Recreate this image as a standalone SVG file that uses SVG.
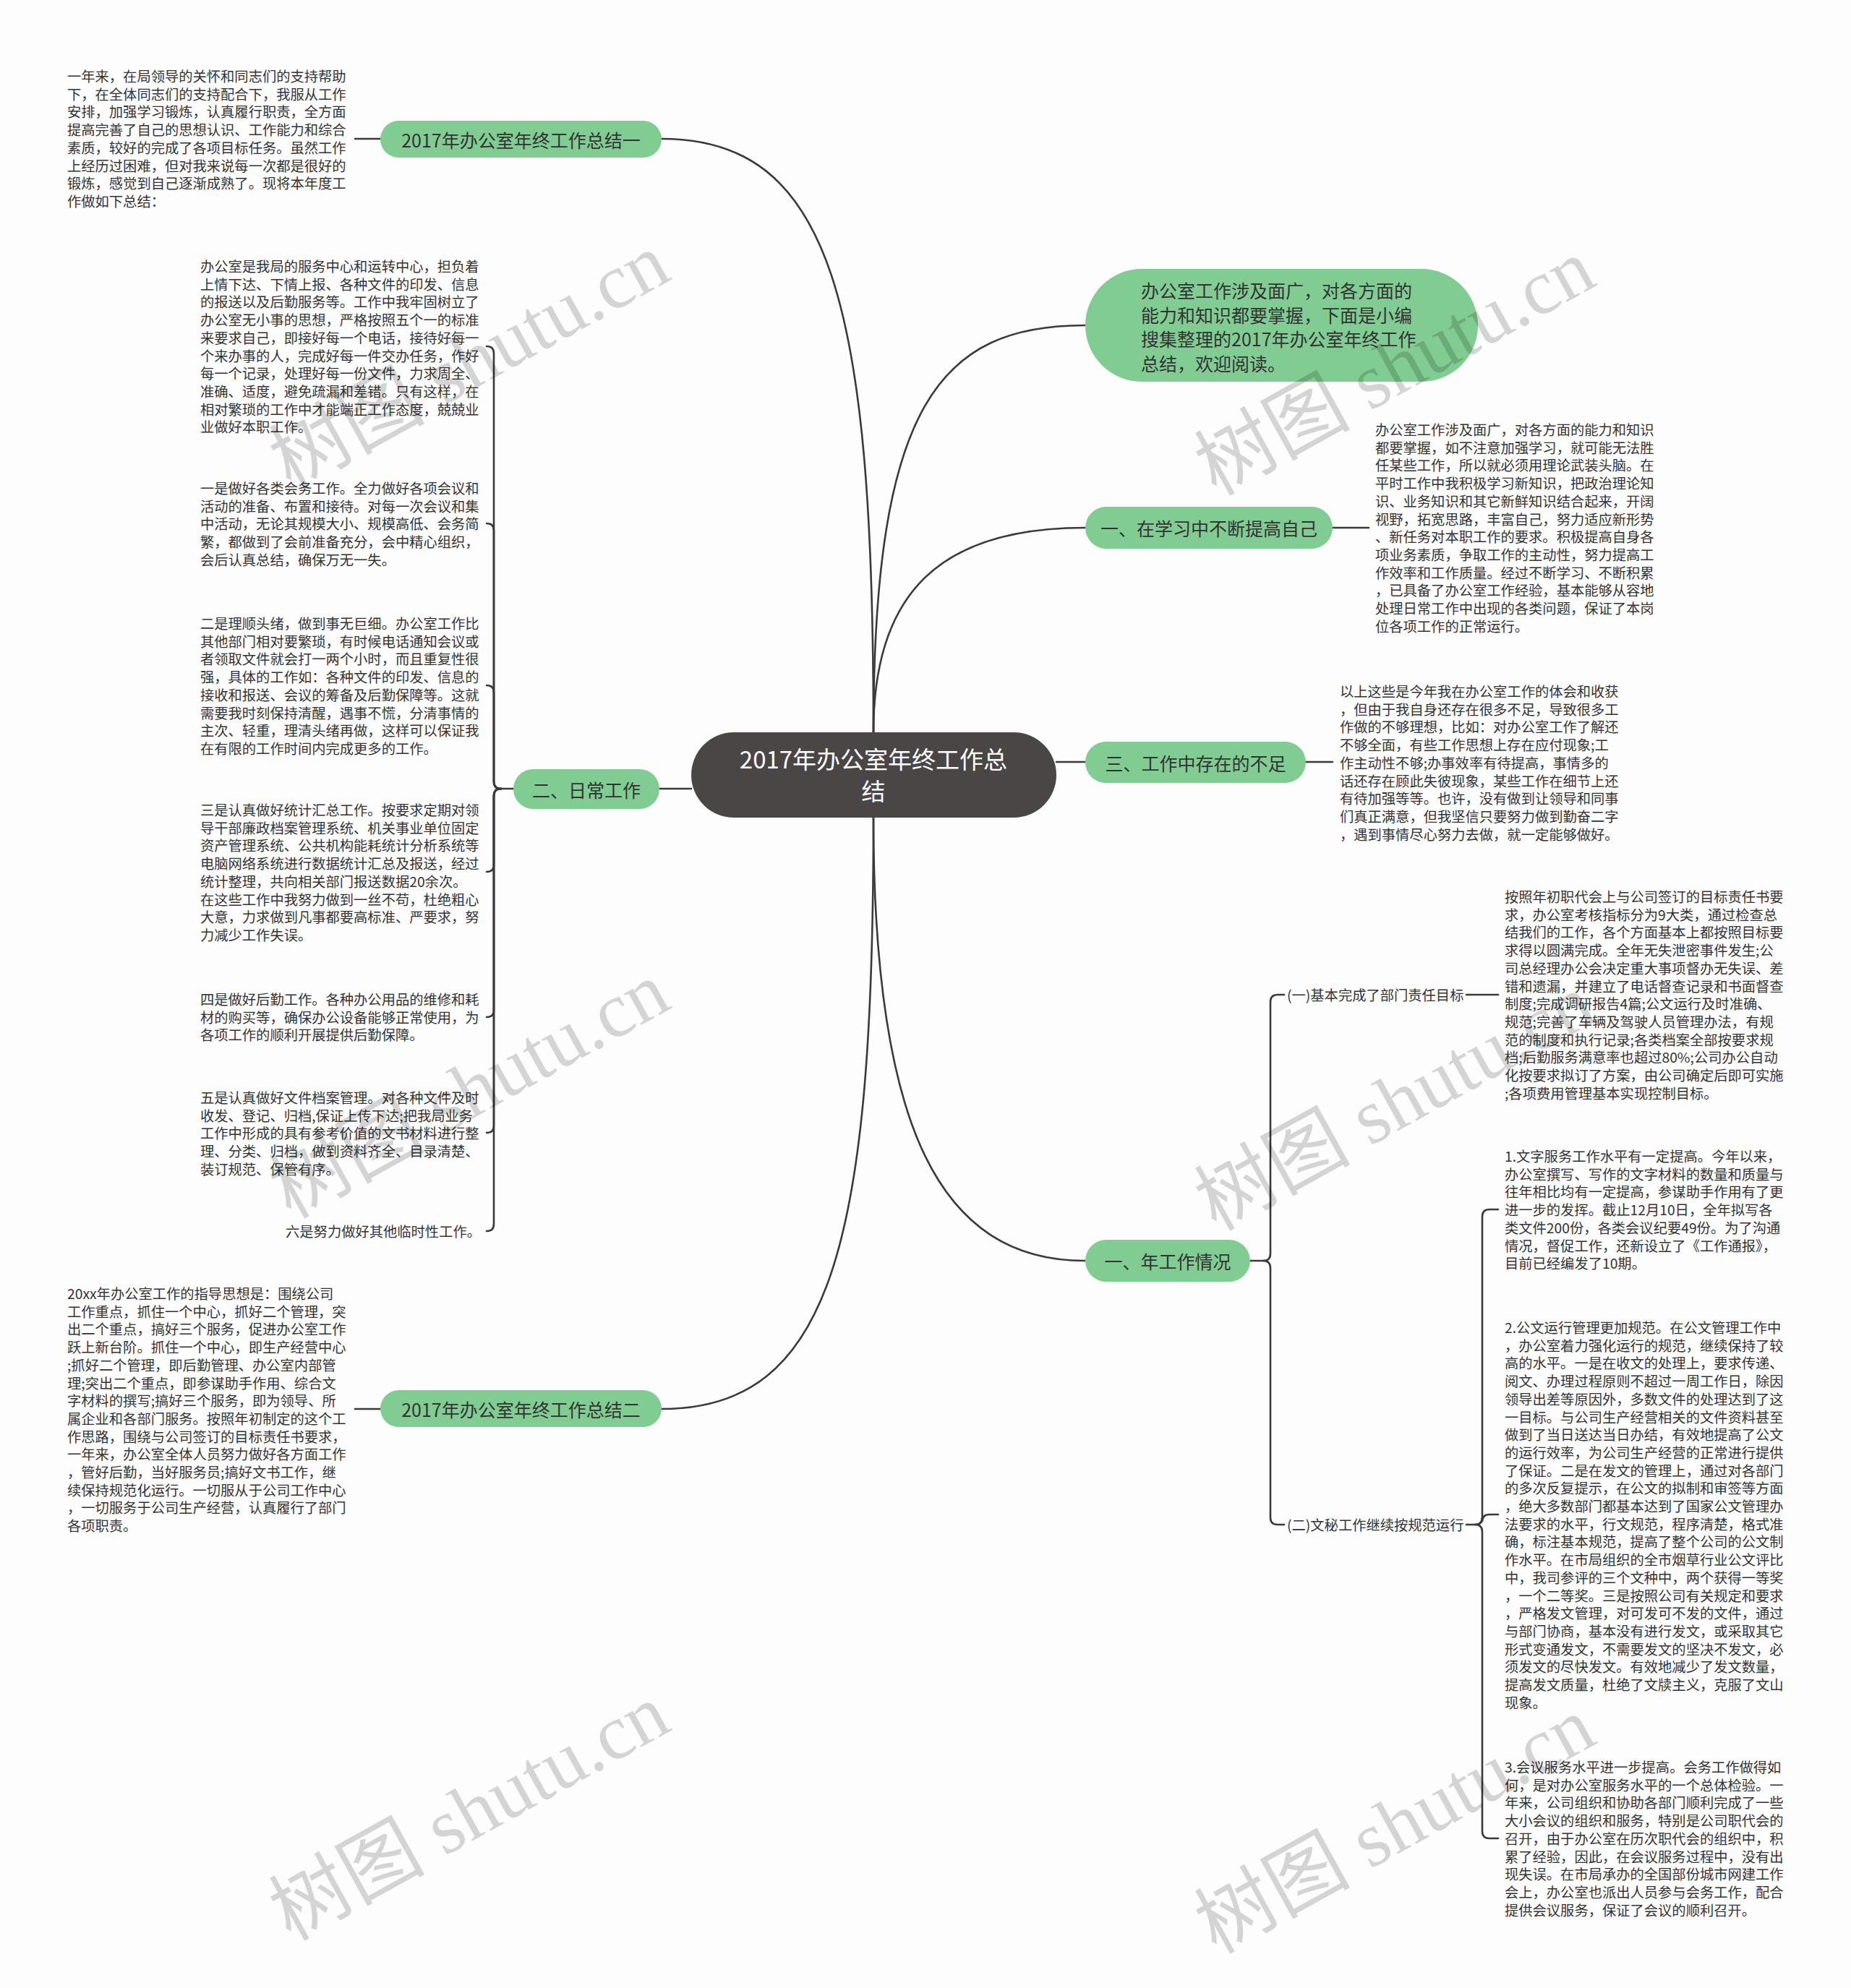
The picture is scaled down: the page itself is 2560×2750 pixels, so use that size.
<svg xmlns="http://www.w3.org/2000/svg" width="2560" height="2750" viewBox="0 0 2560 2750">
<style>
.bg{fill:#fdfdfd}
.conn{fill:none;stroke:#3a3a3a;stroke-width:2.6;stroke-linecap:round}
.pill{fill:#80cc92}
.root{fill:#4a4646}
.lbl{font-family:"Noto Sans CJK SC","Noto Sans",sans-serif;font-size:25px;fill:#333;dominant-baseline:central}
.rlbl{font-family:"Noto Sans CJK SC","Noto Sans",sans-serif;font-size:33px;fill:#fff;dominant-baseline:central;text-anchor:middle}
.leaf{font-family:"Noto Sans CJK SC","Noto Sans",sans-serif;font-size:19.3px;fill:#333;dominant-baseline:central}
.wm{font-family:"Liberation Serif","Noto Sans CJK SC",serif;font-size:108px;fill:#000;fill-opacity:0.16;text-anchor:middle;dominant-baseline:central}
</style>
<rect class="bg" x="0" y="0" width="2560" height="2750"/>

<g id="connectors">
  <path class="conn" d="M1208,1013 C1208,420 1150,192 915,192"/>
  <path class="conn" d="M1208,1131 C1208,1720 1150,1949 915,1949"/>
  <path class="conn" d="M1208,1013 C1208,560 1300,450 1501,450"/>
  <path class="conn" d="M1208,1013 C1208,820 1300,730 1501,730"/>
  <path class="conn" d="M1208,1131 C1208,1560 1300,1744 1501,1744"/>
  <path class="conn" d="M956,1091 H912"/>
  <path class="conn" d="M1461,1054 H1501"/>
  <path class="conn" d="M526,192 H491"/>
  <path class="conn" d="M526,1949 H491"/>
  <path class="conn" d="M1843,730 H1893"/>
  <path class="conn" d="M1806,1054 H1843"/>
  <!-- bracket for 二、日常工作 -->
  <path class="conn" d="M710,1091 H693 Q683,1091 683,1081 V489 Q683,479 673,479"/>
  <path class="conn" d="M693,1091 Q683,1091 683,1081 V734 Q683,724 673,724"/>
  <path class="conn" d="M693,1091 Q683,1091 683,1081 V958 Q683,948 673,948"/>
  <path class="conn" d="M693,1091 Q683,1091 683,1101 V1196 Q683,1206 673,1206"/>
  <path class="conn" d="M693,1091 Q683,1091 683,1101 V1397 Q683,1407 673,1407"/>
  <path class="conn" d="M693,1091 Q683,1091 683,1101 V1557 Q683,1567 673,1567"/>
  <path class="conn" d="M693,1091 Q683,1091 683,1101 V1693 Q683,1703 673,1703"/>
  <!-- bracket for 一、年工作情况 -->
  <path class="conn" d="M1729,1744 H1747 Q1757,1744 1757,1734 V1386 Q1757,1376 1767,1376 H1776"/>
  <path class="conn" d="M1747,1744 Q1757,1744 1757,1754 V2099 Q1757,2109 1767,2109 H1776"/>
  <path class="conn" d="M2028,1376 H2072"/>
  <!-- bracket for (二) -->
  <path class="conn" d="M2028,2109 H2040 Q2050,2109 2050,2099 V1683 Q2050,1673 2060,1673 H2072"/>
  <path class="conn" d="M2040,2109 Q2050,2109 2050,2099 V2105 Q2050,2095 2060,2095 H2072"/>
  <path class="conn" d="M2040,2109 Q2050,2109 2050,2119 V2533 Q2050,2543 2060,2543 H2072"/>
</g>

<g id="root">
  <rect class="root" x="956" y="1013" width="505" height="118" rx="59"/>
  <text class="rlbl" x="1208" y="1049">2017年办公室年终工作总</text>
  <text class="rlbl" x="1208" y="1093">结</text>
</g>

<g id="node-summary1">
  <rect class="pill" x="526" y="167" width="389" height="51" rx="25.5"/>
  <text class="lbl" x="720.5" y="192.5" text-anchor="middle">2017年办公室年终工作总结一</text>
</g>
<g id="node-summary2">
  <rect class="pill" x="526" y="1923" width="389" height="51" rx="25.5"/>
  <text class="lbl" x="720.5" y="1948.5" text-anchor="middle">2017年办公室年终工作总结二</text>
</g>
<g id="node-daily">
  <rect class="pill" x="710" y="1064" width="202" height="55" rx="27.5"/>
  <text class="lbl" x="811" y="1091.5" text-anchor="middle">二、日常工作</text>
</g>
<g id="node-intro">
  <rect class="pill" x="1501" y="372" width="543" height="156" rx="78"/>
  <text class="lbl" x="1578" y="401">
    <tspan x="1578" dy="0">办公室工作涉及面广，对各方面的</tspan>
    <tspan x="1578" dy="33.5">能力和知识都要掌握，下面是小编</tspan>
    <tspan x="1578" dy="33.5">搜集整理的2017年办公室年终工作</tspan>
    <tspan x="1578" dy="33.5">总结，欢迎阅读。</tspan>
  </text>
</g>
<g id="node-study">
  <rect class="pill" x="1501" y="701" width="342" height="58" rx="29"/>
  <text class="lbl" x="1672" y="730" text-anchor="middle">一、在学习中不断提高自己</text>
</g>
<g id="node-shortfall">
  <rect class="pill" x="1501" y="1026" width="305" height="57" rx="28.5"/>
  <text class="lbl" x="1653.5" y="1054.5" text-anchor="middle">三、工作中存在的不足</text>
</g>
<g id="node-work">
  <rect class="pill" x="1501" y="1715" width="228" height="58" rx="29"/>
  <text class="lbl" x="1615" y="1744" text-anchor="middle">一、年工作情况</text>
</g>

<g id="leaf-a">
  <text class="leaf" x="93" y="105">
    <tspan x="93" dy="0">一年来，在局领导的关怀和同志们的支持帮助</tspan>
    <tspan x="93" dy="24.7">下，在全体同志们的支持配合下，我服从工作</tspan>
    <tspan x="93" dy="24.7">安排，加强学习锻炼，认真履行职责，全方面</tspan>
    <tspan x="93" dy="24.7">提高完善了自己的思想认识、工作能力和综合</tspan>
    <tspan x="93" dy="24.7">素质，较好的完成了各项目标任务。虽然工作</tspan>
    <tspan x="93" dy="24.7">上经历过困难，但对我来说每一次都是很好的</tspan>
    <tspan x="93" dy="24.7">锻炼，感觉到自己逐渐成熟了。现将本年度工</tspan>
    <tspan x="93" dy="24.7">作做如下总结：</tspan>
  </text>
</g>

<g id="leaf-daily-1">
  <text class="leaf" x="277" y="368">
    <tspan x="277" dy="0">办公室是我局的服务中心和运转中心，担负着</tspan>
    <tspan x="277" dy="24.7">上情下达、下情上报、各种文件的印发、信息</tspan>
    <tspan x="277" dy="24.7">的报送以及后勤服务等。工作中我牢固树立了</tspan>
    <tspan x="277" dy="24.7">办公室无小事的思想，严格按照五个一的标准</tspan>
    <tspan x="277" dy="24.7">来要求自己，即接好每一个电话，接待好每一</tspan>
    <tspan x="277" dy="24.7">个来办事的人，完成好每一件交办任务，作好</tspan>
    <tspan x="277" dy="24.7">每一个记录，处理好每一份文件，力求周全、</tspan>
    <tspan x="277" dy="24.7">准确、适度，避免疏漏和差错。只有这样，在</tspan>
    <tspan x="277" dy="24.7">相对繁琐的工作中才能端正工作态度，兢兢业</tspan>
    <tspan x="277" dy="24.7">业做好本职工作。</tspan>
  </text>
</g>
<g id="leaf-daily-2">
  <text class="leaf" x="277" y="675">
    <tspan x="277" dy="0">一是做好各类会务工作。全力做好各项会议和</tspan>
    <tspan x="277" dy="24.7">活动的准备、布置和接待。对每一次会议和集</tspan>
    <tspan x="277" dy="24.7">中活动，无论其规模大小、规模高低、会务简</tspan>
    <tspan x="277" dy="24.7">繁，都做到了会前准备充分，会中精心组织，</tspan>
    <tspan x="277" dy="24.7">会后认真总结，确保万无一失。</tspan>
  </text>
</g>
<g id="leaf-daily-3">
  <text class="leaf" x="277" y="862">
    <tspan x="277" dy="0">二是理顺头绪，做到事无巨细。办公室工作比</tspan>
    <tspan x="277" dy="24.7">其他部门相对要繁琐，有时候电话通知会议或</tspan>
    <tspan x="277" dy="24.7">者领取文件就会打一两个小时，而且重复性很</tspan>
    <tspan x="277" dy="24.7">强，具体的工作如：各种文件的印发、信息的</tspan>
    <tspan x="277" dy="24.7">接收和报送、会议的筹备及后勤保障等。这就</tspan>
    <tspan x="277" dy="24.7">需要我时刻保持清醒，遇事不慌，分清事情的</tspan>
    <tspan x="277" dy="24.7">主次、轻重，理清头绪再做，这样可以保证我</tspan>
    <tspan x="277" dy="24.7">在有限的工作时间内完成更多的工作。</tspan>
  </text>
</g>
<g id="leaf-daily-4">
  <text class="leaf" x="277" y="1120">
    <tspan x="277" dy="0">三是认真做好统计汇总工作。按要求定期对领</tspan>
    <tspan x="277" dy="24.7">导干部廉政档案管理系统、机关事业单位固定</tspan>
    <tspan x="277" dy="24.7">资产管理系统、公共机构能耗统计分析系统等</tspan>
    <tspan x="277" dy="24.7">电脑网络系统进行数据统计汇总及报送，经过</tspan>
    <tspan x="277" dy="24.7">统计整理，共向相关部门报送数据20余次。</tspan>
    <tspan x="277" dy="24.7">在这些工作中我努力做到一丝不苟，杜绝粗心</tspan>
    <tspan x="277" dy="24.7">大意，力求做到凡事都要高标准、严要求，努</tspan>
    <tspan x="277" dy="24.7">力减少工作失误。</tspan>
  </text>
</g>
<g id="leaf-daily-5">
  <text class="leaf" x="277" y="1382">
    <tspan x="277" dy="0">四是做好后勤工作。各种办公用品的维修和耗</tspan>
    <tspan x="277" dy="24.7">材的购买等，确保办公设备能够正常使用，为</tspan>
    <tspan x="277" dy="24.7">各项工作的顺利开展提供后勤保障。</tspan>
  </text>
</g>
<g id="leaf-daily-6">
  <text class="leaf" x="277" y="1518">
    <tspan x="277" dy="0">五是认真做好文件档案管理。对各种文件及时</tspan>
    <tspan x="277" dy="24.7">收发、登记、归档,保证上传下达;把我局业务</tspan>
    <tspan x="277" dy="24.7">工作中形成的具有参考价值的文书材料进行整</tspan>
    <tspan x="277" dy="24.7">理、分类、归档，做到资料齐全、目录清楚、</tspan>
    <tspan x="277" dy="24.7">装订规范、保管有序。</tspan>
  </text>
</g>
<g id="leaf-daily-7">
  <text class="leaf" x="665" y="1703" text-anchor="end">六是努力做好其他临时性工作。</text>
</g>

<g id="leaf-b">
  <text class="leaf" x="93" y="1789">
    <tspan x="93" dy="0">20xx年办公室工作的指导思想是：围绕公司</tspan>
    <tspan x="93" dy="24.7">工作重点，抓住一个中心，抓好二个管理，突</tspan>
    <tspan x="93" dy="24.7">出二个重点，搞好三个服务，促进办公室工作</tspan>
    <tspan x="93" dy="24.7">跃上新台阶。抓住一个中心，即生产经营中心</tspan>
    <tspan x="93" dy="24.7">;抓好二个管理，即后勤管理、办公室内部管</tspan>
    <tspan x="93" dy="24.7">理;突出二个重点，即参谋助手作用、综合文</tspan>
    <tspan x="93" dy="24.7">字材料的撰写;搞好三个服务，即为领导、所</tspan>
    <tspan x="93" dy="24.7">属企业和各部门服务。按照年初制定的这个工</tspan>
    <tspan x="93" dy="24.7">作思路，围绕与公司签订的目标责任书要求，</tspan>
    <tspan x="93" dy="24.7">一年来，办公室全体人员努力做好各方面工作</tspan>
    <tspan x="93" dy="24.7">，管好后勤，当好服务员;搞好文书工作，继</tspan>
    <tspan x="93" dy="24.7">续保持规范化运行。一切服从于公司工作中心</tspan>
    <tspan x="93" dy="24.7">，一切服务于公司生产经营，认真履行了部门</tspan>
    <tspan x="93" dy="24.7">各项职责。</tspan>
  </text>
</g>

<g id="leaf-study">
  <text class="leaf" x="1902" y="594">
    <tspan x="1902" dy="0">办公室工作涉及面广，对各方面的能力和知识</tspan>
    <tspan x="1902" dy="24.7">都要掌握，如不注意加强学习，就可能无法胜</tspan>
    <tspan x="1902" dy="24.7">任某些工作，所以就必须用理论武装头脑。在</tspan>
    <tspan x="1902" dy="24.7">平时工作中我积极学习新知识，把政治理论知</tspan>
    <tspan x="1902" dy="24.7">识、业务知识和其它新鲜知识结合起来，开阔</tspan>
    <tspan x="1902" dy="24.7">视野，拓宽思路，丰富自己，努力适应新形势</tspan>
    <tspan x="1902" dy="24.7">、新任务对本职工作的要求。积极提高自身各</tspan>
    <tspan x="1902" dy="24.7">项业务素质，争取工作的主动性，努力提高工</tspan>
    <tspan x="1902" dy="24.7">作效率和工作质量。经过不断学习、不断积累</tspan>
    <tspan x="1902" dy="24.7">，已具备了办公室工作经验，基本能够从容地</tspan>
    <tspan x="1902" dy="24.7">处理日常工作中出现的各类问题，保证了本岗</tspan>
    <tspan x="1902" dy="24.7">位各项工作的正常运行。</tspan>
  </text>
</g>

<g id="leaf-shortfall">
  <text class="leaf" x="1853" y="956">
    <tspan x="1853" dy="0">以上这些是今年我在办公室工作的体会和收获</tspan>
    <tspan x="1853" dy="24.7">，但由于我自身还存在很多不足，导致很多工</tspan>
    <tspan x="1853" dy="24.7">作做的不够理想，比如：对办公室工作了解还</tspan>
    <tspan x="1853" dy="24.7">不够全面，有些工作思想上存在应付现象;工</tspan>
    <tspan x="1853" dy="24.7">作主动性不够;办事效率有待提高，事情多的</tspan>
    <tspan x="1853" dy="24.7">话还存在顾此失彼现象，某些工作在细节上还</tspan>
    <tspan x="1853" dy="24.7">有待加强等等。也许，没有做到让领导和同事</tspan>
    <tspan x="1853" dy="24.7">们真正满意，但我坚信只要努力做到勤奋二字</tspan>
    <tspan x="1853" dy="24.7">，遇到事情尽心努力去做，就一定能够做好。</tspan>
  </text>
</g>

<g id="node-target">
  <text class="leaf" x="1780" y="1376">(一)基本完成了部门责任目标</text>
</g>
<g id="node-secretary">
  <text class="leaf" x="1780" y="2109">(二)文秘工作继续按规范运行</text>
</g>

<g id="leaf-target">
  <text class="leaf" x="2081" y="1240">
    <tspan x="2081" dy="0">按照年初职代会上与公司签订的目标责任书要</tspan>
    <tspan x="2081" dy="24.7">求，办公室考核指标分为9大类，通过检查总</tspan>
    <tspan x="2081" dy="24.7">结我们的工作，各个方面基本上都按照目标要</tspan>
    <tspan x="2081" dy="24.7">求得以圆满完成。全年无失泄密事件发生;公</tspan>
    <tspan x="2081" dy="24.7">司总经理办公会决定重大事项督办无失误、差</tspan>
    <tspan x="2081" dy="24.7">错和遗漏，并建立了电话督查记录和书面督查</tspan>
    <tspan x="2081" dy="24.7">制度;完成调研报告4篇;公文运行及时准确、</tspan>
    <tspan x="2081" dy="24.7">规范;完善了车辆及驾驶人员管理办法，有规</tspan>
    <tspan x="2081" dy="24.7">范的制度和执行记录;各类档案全部按要求规</tspan>
    <tspan x="2081" dy="24.7">档;后勤服务满意率也超过80%;公司办公自动</tspan>
    <tspan x="2081" dy="24.7">化按要求拟订了方案，由公司确定后即可实施</tspan>
    <tspan x="2081" dy="24.7">;各项费用管理基本实现控制目标。</tspan>
  </text>
</g>

<g id="leaf-sec-1">
  <text class="leaf" x="2081" y="1599">
    <tspan x="2081" dy="0">1.文字服务工作水平有一定提高。今年以来，</tspan>
    <tspan x="2081" dy="24.7">办公室撰写、写作的文字材料的数量和质量与</tspan>
    <tspan x="2081" dy="24.7">往年相比均有一定提高，参谋助手作用有了更</tspan>
    <tspan x="2081" dy="24.7">进一步的发挥。截止12月10日，全年拟写各</tspan>
    <tspan x="2081" dy="24.7">类文件200份，各类会议纪要49份。为了沟通</tspan>
    <tspan x="2081" dy="24.7">情况，督促工作，还新设立了《工作通报》，</tspan>
    <tspan x="2081" dy="24.7">目前已经编发了10期。</tspan>
  </text>
</g>
<g id="leaf-sec-2">
  <text class="leaf" x="2081" y="1836">
    <tspan x="2081" dy="0">2.公文运行管理更加规范。在公文管理工作中</tspan>
    <tspan x="2081" dy="24.7">，办公室着力强化运行的规范，继续保持了较</tspan>
    <tspan x="2081" dy="24.7">高的水平。一是在收文的处理上，要求传递、</tspan>
    <tspan x="2081" dy="24.7">阅文、办理过程原则不超过一周工作日，除因</tspan>
    <tspan x="2081" dy="24.7">领导出差等原因外，多数文件的处理达到了这</tspan>
    <tspan x="2081" dy="24.7">一目标。与公司生产经营相关的文件资料甚至</tspan>
    <tspan x="2081" dy="24.7">做到了当日送达当日办结，有效地提高了公文</tspan>
    <tspan x="2081" dy="24.7">的运行效率，为公司生产经营的正常进行提供</tspan>
    <tspan x="2081" dy="24.7">了保证。二是在发文的管理上，通过对各部门</tspan>
    <tspan x="2081" dy="24.7">的多次反复提示，在公文的拟制和审签等方面</tspan>
    <tspan x="2081" dy="24.7">，绝大多数部门都基本达到了国家公文管理办</tspan>
    <tspan x="2081" dy="24.7">法要求的水平，行文规范，程序清楚，格式准</tspan>
    <tspan x="2081" dy="24.7">确，标注基本规范，提高了整个公司的公文制</tspan>
    <tspan x="2081" dy="24.7">作水平。在市局组织的全市烟草行业公文评比</tspan>
    <tspan x="2081" dy="24.7">中，我司参评的三个文种中，两个获得一等奖</tspan>
    <tspan x="2081" dy="24.7">，一个二等奖。三是按照公司有关规定和要求</tspan>
    <tspan x="2081" dy="24.7">，严格发文管理，对可发可不发的文件，通过</tspan>
    <tspan x="2081" dy="24.7">与部门协商，基本没有进行发文，或采取其它</tspan>
    <tspan x="2081" dy="24.7">形式变通发文，不需要发文的坚决不发文，必</tspan>
    <tspan x="2081" dy="24.7">须发文的尽快发文。有效地减少了发文数量，</tspan>
    <tspan x="2081" dy="24.7">提高发文质量，杜绝了文牍主义，克服了文山</tspan>
    <tspan x="2081" dy="24.7">现象。</tspan>
  </text>
</g>
<g id="leaf-sec-3">
  <text class="leaf" x="2081" y="2444">
    <tspan x="2081" dy="0">3.会议服务水平进一步提高。会务工作做得如</tspan>
    <tspan x="2081" dy="24.7">何，是对办公室服务水平的一个总体检验。一</tspan>
    <tspan x="2081" dy="24.7">年来，公司组织和协助各部门顺利完成了一些</tspan>
    <tspan x="2081" dy="24.7">大小会议的组织和服务，特别是公司职代会的</tspan>
    <tspan x="2081" dy="24.7">召开，由于办公室在历次职代会的组织中，积</tspan>
    <tspan x="2081" dy="24.7">累了经验，因此，在会议服务过程中，没有出</tspan>
    <tspan x="2081" dy="24.7">现失误。在市局承办的全国部份城市网建工作</tspan>
    <tspan x="2081" dy="24.7">会上，办公室也派出人员参与会务工作，配合</tspan>
    <tspan x="2081" dy="24.7">提供会议服务，保证了会议的顺利召开。</tspan>
  </text>
</g>

<g id="watermarks">
  <text class="wm" transform="translate(649,500) rotate(-29)">树图 shutu.cn</text>
  <text class="wm" transform="translate(1929,508) rotate(-29)">树图 shutu.cn</text>
  <text class="wm" transform="translate(649,1508) rotate(-29)">树图 shutu.cn</text>
  <text class="wm" transform="translate(1929,1525) rotate(-29)">树图 shutu.cn</text>
  <text class="wm" transform="translate(649,2507) rotate(-29)">树图 shutu.cn</text>
  <text class="wm" transform="translate(1929,2525) rotate(-29)">树图 shutu.cn</text>
</g>
</svg>
